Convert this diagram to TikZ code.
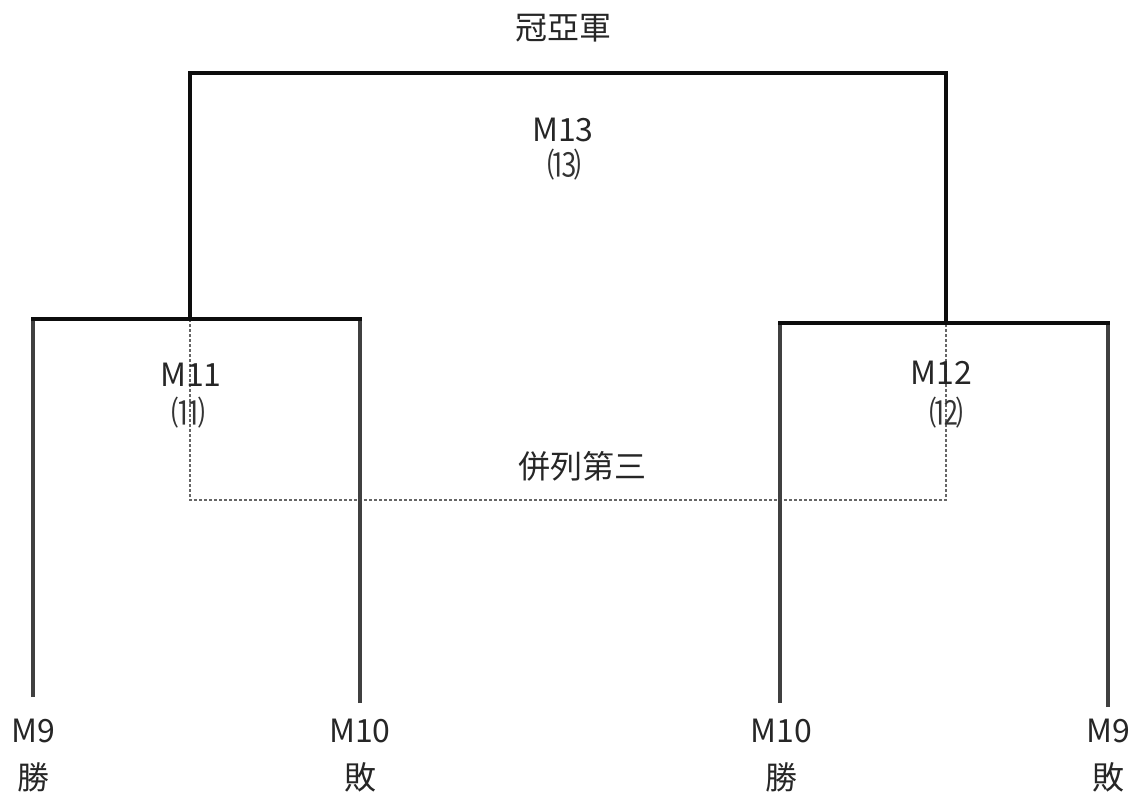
\documentclass[tikz,border=0pt]{standalone}
\usepackage{fontspec}
\setmainfont{Noto Sans CJK TC}
\begin{document}
\begin{tikzpicture}[x=1pt,y=-1pt,
  lbl/.style={inner sep=0pt,font=\fontsize{32}{38}\selectfont,text=black!85},
  smalllbl/.style={inner sep=0pt,font=\fontsize{34}{40}\selectfont,text=black!80},
  bar/.style={line width=4pt,black!95},
  leg/.style={line width=4pt,black!75},
  third/.style={line width=1.5pt,black!60,dash pattern=on 3pt off 2pt}]
\useasboundingbox (0,0) rectangle (1138,796);
% joints
\coordinate (tl) at (190,73);
\coordinate (tr) at (946,73);
\coordinate (l) at (190,319);
\coordinate (r) at (946,323);
\coordinate (la) at (33,319);
\coordinate (lb) at (360,319);
\coordinate (ra) at (780,323);
\coordinate (rb) at (1108,323);
\coordinate (la0) at (33,697);
\coordinate (lb0) at (360,703);
\coordinate (ra0) at (780,703);
\coordinate (rb0) at (1108,707);
\coordinate (dl) at (190,500);
\coordinate (dr) at (946,500);
% dashed third place
\draw[third] (l) -- (dl) -- (dr) -- (r);
% tree
\draw[leg] (la0) -- (la);
\draw[leg] (lb0) -- (lb);
\draw[leg] (ra0) -- (ra);
\draw[leg] (rb0) -- (rb);
\draw[bar,line cap=rect] (la) -- (lb);
\draw[bar,line cap=rect] (ra) -- (rb);
\draw[bar] (l) -- (tl);
\draw[bar] (r) -- (tr);
\draw[bar,line cap=rect] (tl) -- (tr);
% labels
\node[lbl] (champ) at (563,28) {冠亞軍};
\node[lbl] (m13) at (563,130) {M13};
\node[smalllbl] (n13) at (564,165) {⒀};
\node[lbl] (m11) at (191,375) {M11};
\node[smalllbl] (n11) at (188,413) {⑾};
\node[lbl] (m12) at (941,373) {M12};
\node[smalllbl] (n12) at (946,413) {⑿};
\node[lbl] (bing) at (582,466) {併列第三};
\node[lbl] (a1) at (33,731) {M9};
\node[lbl] (a2) at (33,777) {勝};
\node[lbl] (b1) at (360,731) {M10};
\node[lbl] (b2) at (360,777) {敗};
\node[lbl] (c1) at (781,731) {M10};
\node[lbl] (c2) at (781,777) {勝};
\node[lbl] (d1) at (1108,731) {M9};
\node[lbl] (d2) at (1108,777) {敗};
\end{tikzpicture}
\end{document}
